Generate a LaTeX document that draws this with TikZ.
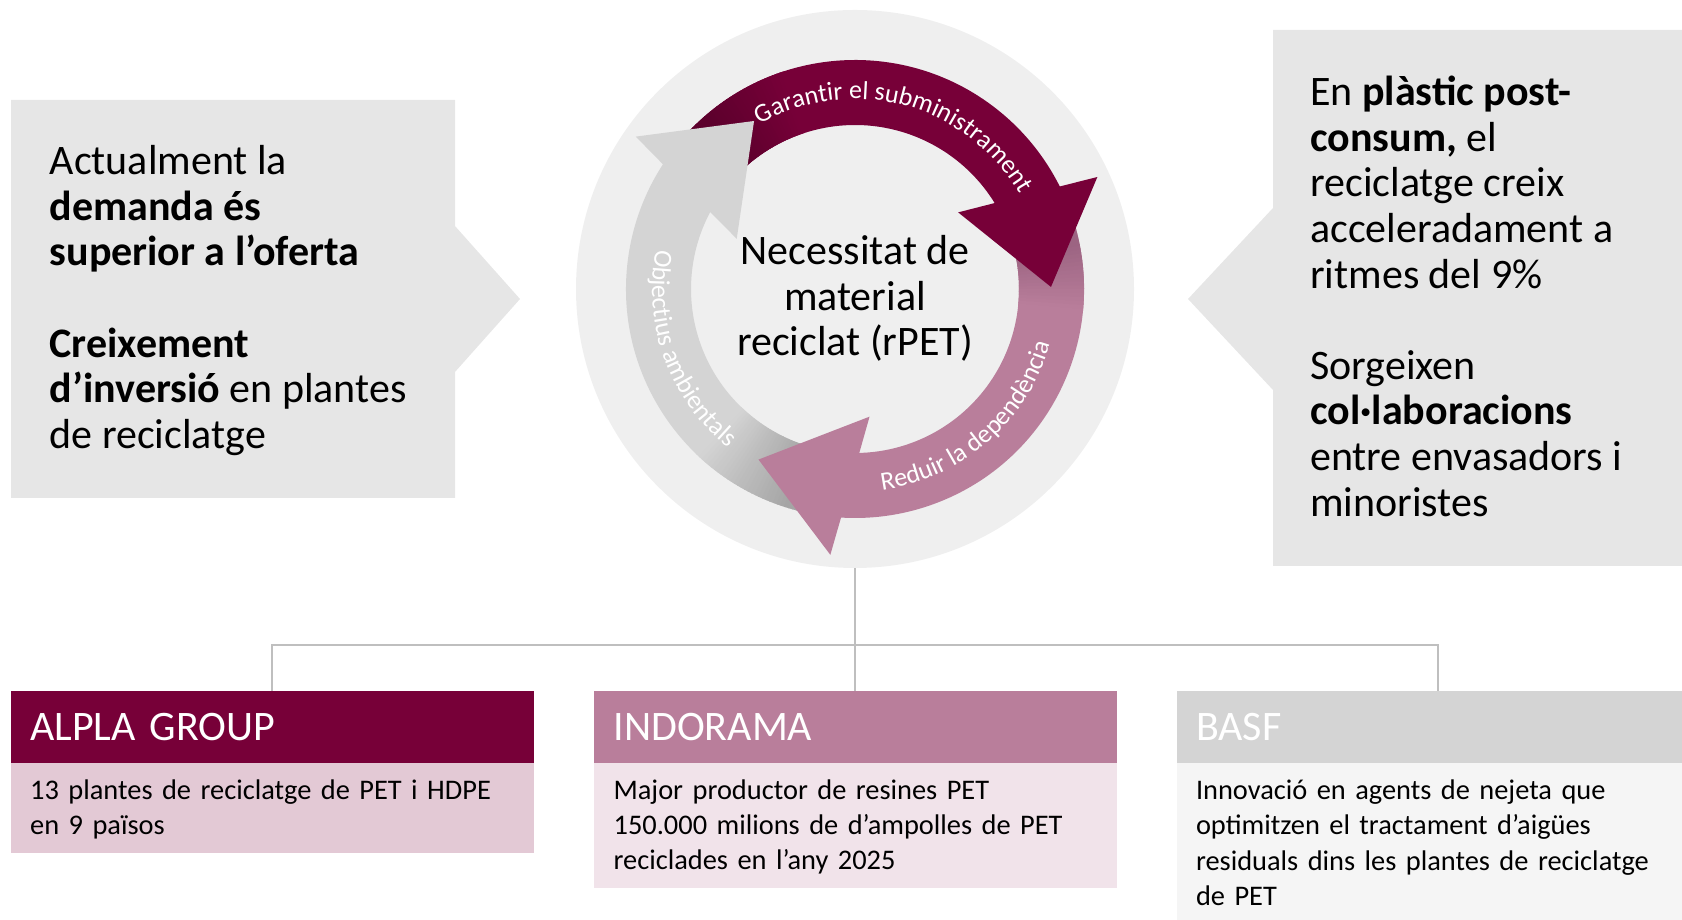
\documentclass[tikz,border=0pt]{standalone}
\usepackage{fontspec}
\setmainfont{Carlito}
\usetikzlibrary{positioning,decorations.text}

\definecolor{maroon}{HTML}{770038}
\definecolor{rose}{HTML}{B97E9B}
\definecolor{ringgray}{HTML}{D4D4D4}
\definecolor{hubgray}{HTML}{EFEFEF}
\definecolor{sidegray}{HTML}{E6E6E6}
\definecolor{alplabody}{HTML}{E3C9D5}
\definecolor{indobody}{HTML}{F1E3EA}
\definecolor{basfbody}{HTML}{F5F5F5}
\definecolor{linegray}{HTML}{BFBFBF}
\definecolor{maroonshade}{HTML}{5C002C}
\definecolor{roseshade}{HTML}{9C6482}
\definecolor{grayshade}{HTML}{A5A5A5}

\newcommand{\bigfont}{\fontsize{42}{45.6}\selectfont}
\newcommand{\labfont}{\fontsize{26}{30}\selectfont}
\newcommand{\smallfont}{\fontsize{28.4}{35.4}\selectfont}
\newcommand{\topstrut}{\rule{0pt}{28.8pt}}

% ring arrow: colour, tip angle, tail angle
\newcommand{\ringbody}[3]{%
  \fill[#1] (#3:229) arc[start angle=#3, end angle={#2+23.5}, radius=229]
    -- ({#2+28.5}:164) arc[start angle={#2+28.5}, end angle=#3, radius=164] -- cycle;}
\newcommand{\ringhead}[2]{%
  \fill[#1] ({#2+26}:229) -- ({#2+24.2}:267) -- (#2:196) -- ({#2+36}:128.5)
    -- ({#2+31}:164) -- cycle;}
% shadow of the next head on a tail
\newcommand{\ringshade}[4]{%
  \foreach \a in {#3,...,#4}{
    \pgfmathtruncatemacro{\shadepct}{min(100,max(0,(\a-#3)/(#4-#3-8)*100))}
    \fill[#1!\shadepct!#2] (\a:229) arc[start angle=\a, end angle=\a+1.3, radius=229]
      -- ({\a+1.3}:164) arc[start angle=\a+1.3, end angle=\a, radius=164] -- cycle;
  }}

\tikzset{
  sidebox/.style={fill=sidegray},
  sidetext/.style={anchor=north west, align=left, inner sep=0pt, font=\bigfont},
  header/.style={rectangle, minimum width=523pt, minimum height=71.5pt, text width=484pt,
    inner xsep=19.5pt, inner ysep=0pt, align=left, font=\bigfont, text=white},
  bodybox/.style={rectangle, minimum width=523pt, text width=484pt, inner xsep=19.5pt,
    inner ysep=0pt, align=left, font=\smallfont, below=0pt of #1},
  conn/.style={draw=linegray, line width=2pt},
  ringlabel/.style={decorate, decoration={text along path, text align=center,
    text color=white, text={|\labfont|#1}}}
}

\begin{document}
\begin{tikzpicture}[x=1pt,y=1pt]
\useasboundingbox (0,0) rectangle (1682,920);

\fill[sidebox] (11,820) -- (455,820) -- (455,694) -- (520,621) -- (455,548) -- (455,422) -- (11,422) -- cycle;
\fill[sidebox] (1700,890) -- (1273,890) -- (1273,712) -- (1188,621) -- (1273,530) -- (1273,354) -- (1700,354) -- cycle;

\node[sidetext] (demand) at (49.5,777.5) {\strut Actualment la\\ \textbf{demanda és}\\ \textbf{superior a l’oferta}\\[45.6pt]
  \textbf{Creixement}\\ \textbf{d’inversió} en plantes\\ de reciclatge};
\node[sidetext] (growth) at (1310,846.5) {\strut En \textbf{plàstic post-}\\ \textbf{consum,} el\\ reciclatge creix\\
  acceleradament a\\ ritmes del 9\%\\[45.6pt] Sorgeixen\\ \textbf{col·laboracions}\\ entre envasadors i\\ minoristes};

\node[circle, fill=hubgray, minimum size=558pt, inner sep=0pt] (hub) at (855,631) {};

\begin{scope}[shift={(hub.center)}]
  \ringbody{maroon}{0.6}{140}
  \ringbody{ringgray}{121}{261}
  \ringbody{rose}{240.5}{380}
  \ringshade{maroonshade}{maroon}{108}{139}
  \ringshade{grayshade}{ringgray}{226}{260}
  \ringshade{roseshade}{rose}{354}{379}
  \ringhead{maroon}{0.6}
  \ringhead{ringgray}{121}
  \ringhead{rose}{240.5}
  \path[ringlabel=Garantir el subministrament] (140:190) arc[start angle=140, end angle=10, radius=190];
  \path[ringlabel=Objectius ambientals] (160:203) arc[start angle=160, end angle=240, radius=203];
  \path[ringlabel=Reduir la dependència] (272:203) arc[start angle=272, end angle=350, radius=203];
\end{scope}

\node[align=center, inner sep=0pt, font=\bigfont, anchor=north] (need) at (855,687.7)
  {\strut Necessitat de\\ material\\ reciclat (rPET)};

\node[header, fill=maroon, anchor=north west] (alpla) at (10.5,229) {ALPLA GROUP};
\node[header, fill=rose, right=60pt of alpla] (indorama) {INDORAMA};
\node[header, fill=ringgray, right=59pt of indorama] (basf) {BASF};
\node[bodybox=alpla, fill=alplabody, minimum height=89.5pt] (alplatext)
  {\topstrut 13 plantes de reciclatge de PET i HDPE\\ en 9 països\strut};
\node[bodybox=indorama, fill=indobody, minimum height=124.5pt] (indoramatext)
  {\topstrut Major productor de resines PET\\ 150.000 milions de d’ampolles de PET\\ reciclades en l’any 2025\strut};
\node[bodybox=basf, fill=basfbody, minimum height=161pt] (basftext)
  {\topstrut Innovació en agents de nejeta que\\ optimitzen el tractament d’aigües\\ residuals dins les plantes de reciclatge\\ de PET\strut};

\coordinate (bus) at (855,275);
\draw[conn] (hub.south) -- (hub.south |- indorama.north);
\draw[conn] (alpla.north) |- (bus) -| (basf.north);
\end{tikzpicture}
\end{document}
